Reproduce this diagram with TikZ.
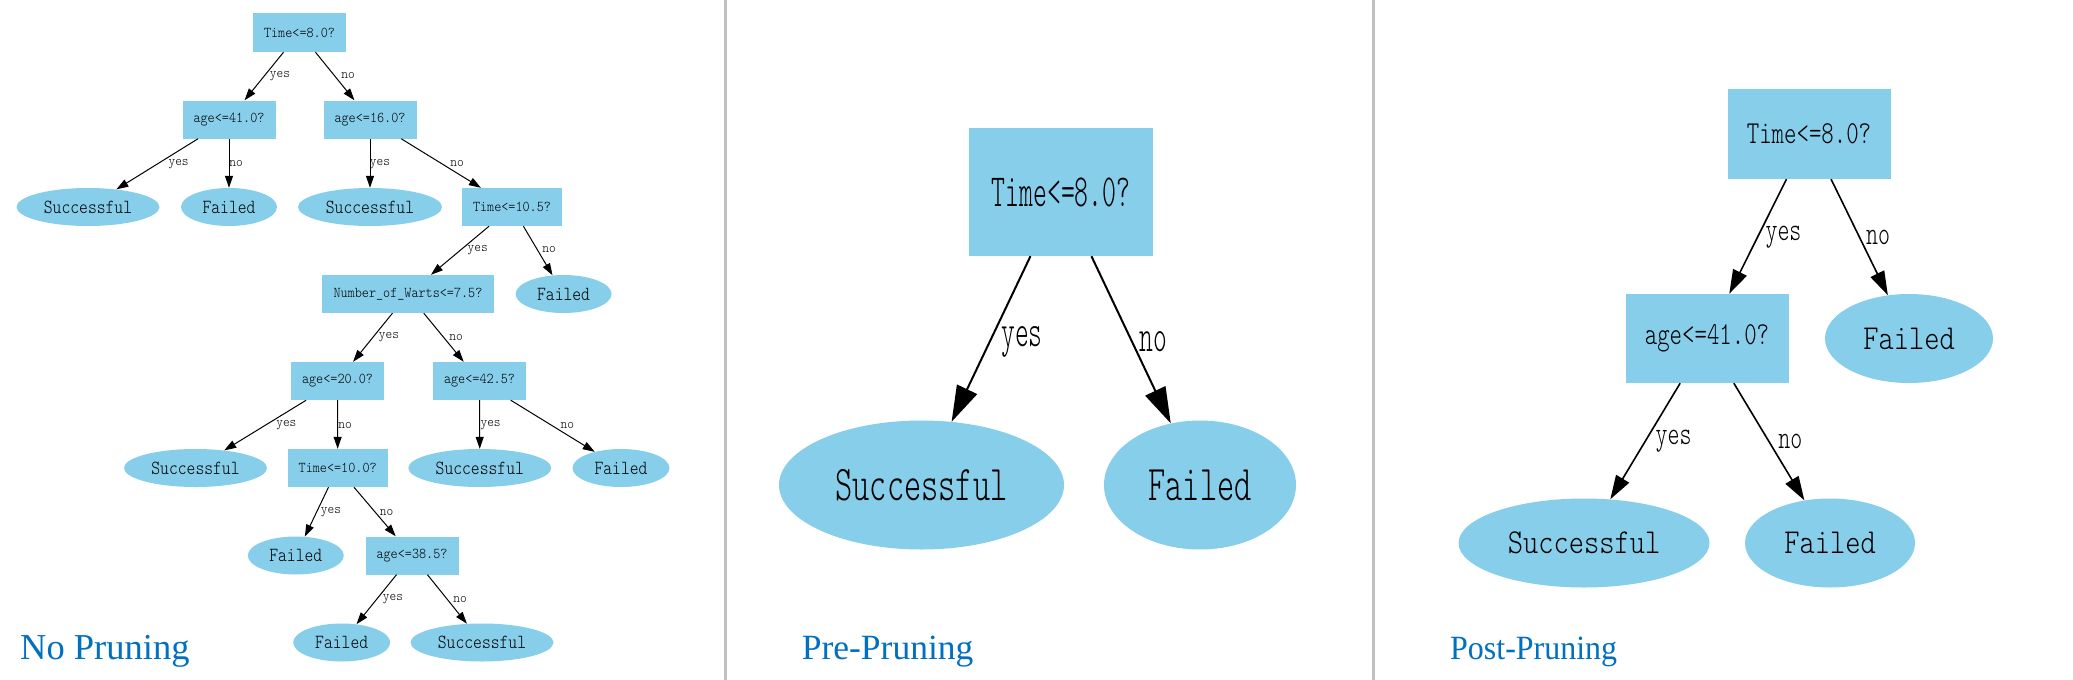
\documentclass[tikz,border=0pt]{standalone}
\usepackage{fontspec}
\setmainfont{Liberation Serif}
\newfontfamily\lmlight{lmmonolt10-regular.otf}
\usepackage{graphicx}
\usetikzlibrary{shapes.geometric,arrows.meta}
\definecolor{sky}{RGB}{135,206,235}
\definecolor{ttl}{RGB}{0,112,192}
\definecolor{sepgray}{RGB}{192,192,192}
\newcommand\hsq[2]{\scalebox{#1}[1]{#2}}
\newcommand\ba[1]{\hsq{0.9}{#1}}
\newcommand\la[1]{\hsq{0.84}{#1}}
\newcommand\ea[1]{\hsq{0.91}{#1}}
\begin{document}
\begin{tikzpicture}[x=1pt,y=-1pt,
  pAbox/.style={rectangle,fill=sky,inner sep=0pt,minimum height=38pt,font=\lmlight\fontsize{15}{15}\selectfont},
  pAleaf/.style={ellipse,fill=sky,inner sep=0pt,minimum height=38pt,font=\lmlight\fontsize{20}{20}\selectfont},
  pAlab/.style={inner sep=0pt,font=\lmlight\fontsize{14}{14}\selectfont},
  pAedge/.style={line width=1pt,-{Triangle[length=12pt,width=8pt]}},
  pBbox/.style={rectangle,fill=sky,inner sep=0pt,font=\lmlight\fontsize{46}{46}\selectfont},
  pBleaf/.style={ellipse,fill=sky,inner sep=0pt,minimum height=129pt,font=\lmlight\fontsize{50}{50}\selectfont},
  pBlab/.style={inner sep=0pt,font=\lmlight\fontsize{46}{46}\selectfont},
  pBedge/.style={line width=2pt,-{Triangle[length=36pt,width=22pt]}},
  pCbox/.style={rectangle,fill=sky,inner sep=0pt,minimum width=163pt,minimum height=89pt,font=\lmlight\fontsize{32}{32}\selectfont},
  pCleaf/.style={ellipse,fill=sky,inner sep=0pt,minimum height=89pt,font=\lmlight\fontsize{35}{35}\selectfont},
  pClab/.style={inner sep=0pt,font=\lmlight\fontsize{33}{33}\selectfont},
  pCedge/.style={line width=1.6pt,-{Triangle[length=24pt,width=15pt]}},
  title/.style={anchor=base west,inner sep=0pt,text=ttl},
  sepline/.style={sepgray,line width=3pt}
]
\useasboundingbox (0,0) rectangle (2073,680);
\fill[white] (0,0) rectangle (2073,680);

% separators
\draw[sepline] (725.5,0) -- (725.5,680);
\draw[sepline] (1373.5,0) -- (1373.5,680);

% ---------------- Panel 1: No Pruning ----------------
\node[pAbox,minimum width=93pt,minimum height=39pt] (a0) at (299.5,32.5) {\ba{Time<=8.0?}};
\node[pAbox,minimum width=93pt] (a1) at (229,119.5) {\ba{age<=41.0?}};
\node[pAbox,minimum width=93pt] (a2) at (370,119.5) {\ba{age<=16.0?}};
\node[pAleaf,minimum width=143pt] (a3) at (88,207) {\la{Successful}};
\node[pAleaf,minimum width=96pt] (a4) at (229,207) {\la{Failed}};
\node[pAleaf,minimum width=144pt] (a5) at (370,207) {\la{Successful}};
\node[pAbox,minimum width=100pt] (a6) at (512,207) {\ba{Time<=10.5?}};
\node[pAbox,minimum width=172pt] (a7) at (408,294) {\ba{Number\_of\_Warts<=7.5?}};
\node[pAleaf,minimum width=96pt] (a8) at (563.6,294) {\la{Failed}};
\node[pAbox,minimum width=93pt] (a9) at (337.5,381) {\ba{age<=20.0?}};
\node[pAbox,minimum width=93pt] (a10) at (479.5,381) {\ba{age<=42.5?}};
\node[pAleaf,minimum width=143pt] (a11) at (195.5,468) {\la{Successful}};
\node[pAbox,minimum width=100pt] (a12) at (337.7,468) {\ba{Time<=10.0?}};
\node[pAleaf,minimum width=143pt] (a13) at (479.8,468) {\la{Successful}};
\node[pAleaf,minimum width=97pt] (a14) at (621,468) {\la{Failed}};
\node[pAleaf,minimum width=96pt] (a15) at (295.8,555.5) {\la{Failed}};
\node[pAbox,minimum width=93pt] (a16) at (412,555.5) {\ba{age<=38.5?}};
\node[pAleaf,minimum width=97pt] (a17) at (341.7,642.5) {\la{Failed}};
\node[pAleaf,minimum width=143pt] (a18) at (482,642.5) {\la{Successful}};

\draw[pAedge] (a0) -- (a1);  \draw[pAedge] (a0) -- (a2);
\draw[pAedge] (a1) -- (a3);  \draw[pAedge] (a1) -- (a4);
\draw[pAedge] (a2) -- (a5);  \draw[pAedge] (a2) -- (a6);
\draw[pAedge] (a6) -- (a7);  \draw[pAedge] (a6) -- (a8);
\draw[pAedge] (a7) -- (a9);  \draw[pAedge] (a7) -- (a10);
\draw[pAedge] (a9) -- (a11); \draw[pAedge] (a9) -- (a12);
\draw[pAedge] (a10) -- (a13); \draw[pAedge] (a10) -- (a14);
\draw[pAedge] (a12) -- (a15); \draw[pAedge] (a12) -- (a16);
\draw[pAedge] (a16) -- (a17); \draw[pAedge] (a16) -- (a18);

\node[pAlab] (ya0) at (280,76) {\ea{yes}};      \node[pAlab] (na0) at (348,76) {\ea{no}};
\node[pAlab] (ya1) at (178.6,163.7) {\ea{yes}};  \node[pAlab] (na1) at (236,163.7) {\ea{no}};
\node[pAlab] (ya2) at (380,163.7) {\ea{yes}};    \node[pAlab] (na2) at (457,163.7) {\ea{no}};
\node[pAlab] (ya6) at (477.7,250) {\ea{yes}};    \node[pAlab] (na6) at (549,250) {\ea{no}};
\node[pAlab] (ya7) at (389,337.3) {\ea{yes}};    \node[pAlab] (na7) at (456,337.3) {\ea{no}};
\node[pAlab] (ya9) at (286.4,425) {\ea{yes}};    \node[pAlab] (na9) at (345,425) {\ea{no}};
\node[pAlab] (ya10) at (490.6,425) {\ea{yes}};   \node[pAlab] (na10) at (567.4,425) {\ea{no}};
\node[pAlab] (ya12) at (331,512.3) {\ea{yes}};   \node[pAlab] (na12) at (386.6,512.3) {\ea{no}};
\node[pAlab] (ya16) at (393,599) {\ea{yes}};     \node[pAlab] (na16) at (460,599) {\ea{no}};

\node[title,font=\fontsize{36.5}{36.5}\selectfont] (t1) at (20,659) {No Pruning};

% ---------------- Panel 2: Pre-Pruning ----------------
\node[pBbox,minimum width=184pt,minimum height=128pt] (b0) at (1061,192) {\hsq{0.575}{Time<=8.0?}};
\node[pBleaf,minimum width=285pt] (b1) at (921.5,485) {\hsq{0.655}{Successful}};
\node[pBleaf,minimum width=192pt] (b2) at (1200,485) {\hsq{0.655}{Failed}};
\draw[pBedge] (b0) -- (b1);
\draw[pBedge] (b0) -- (b2);
\node[pBlab] (yb0) at (1022,342) {\hsq{0.57}{yes}};
\node[pBlab] (nb0) at (1153,342) {\hsq{0.57}{no}};
\node[title,font=\fontsize{35.5}{35.5}\selectfont] (t2) at (801.6,659) {Pre-Pruning};

% ---------------- Panel 3: Post-Pruning ----------------
\node[pCbox,minimum height=90pt] (c0) at (1809,134) {\hsq{0.74}{Time<=8.0?}};
\node[pCbox] (c1) at (1707,338.5) {\hsq{0.74}{age<=41.0?}};
\node[pCleaf,minimum width=168pt] (c2) at (1909,338.5) {\hsq{0.83}{Failed}};
\node[pCleaf,minimum width=251pt] (c3) at (1584,543) {\hsq{0.83}{Successful}};
\node[pCleaf,minimum width=170pt] (c4) at (1830,543) {\hsq{0.83}{Failed}};
\draw[pCedge] (c0) -- (c1);
\draw[pCedge] (c0) -- (c2);
\draw[pCedge] (c1) -- (c3);
\draw[pCedge] (c1) -- (c4);
\node[pClab] (yc0) at (1783.5,237) {\hsq{0.69}{yes}};
\node[pClab] (nc0) at (1878,237) {\hsq{0.69}{no}};
\node[pClab] (yc1) at (1673.6,441.4) {\hsq{0.69}{yes}};
\node[pClab] (nc1) at (1790.4,441.4) {\hsq{0.69}{no}};
\node[title,font=\fontsize{34}{34}\selectfont] (t3) at (1450,659) {\hsq{0.94}{Post-Pruning}};
\end{tikzpicture}
\end{document}
